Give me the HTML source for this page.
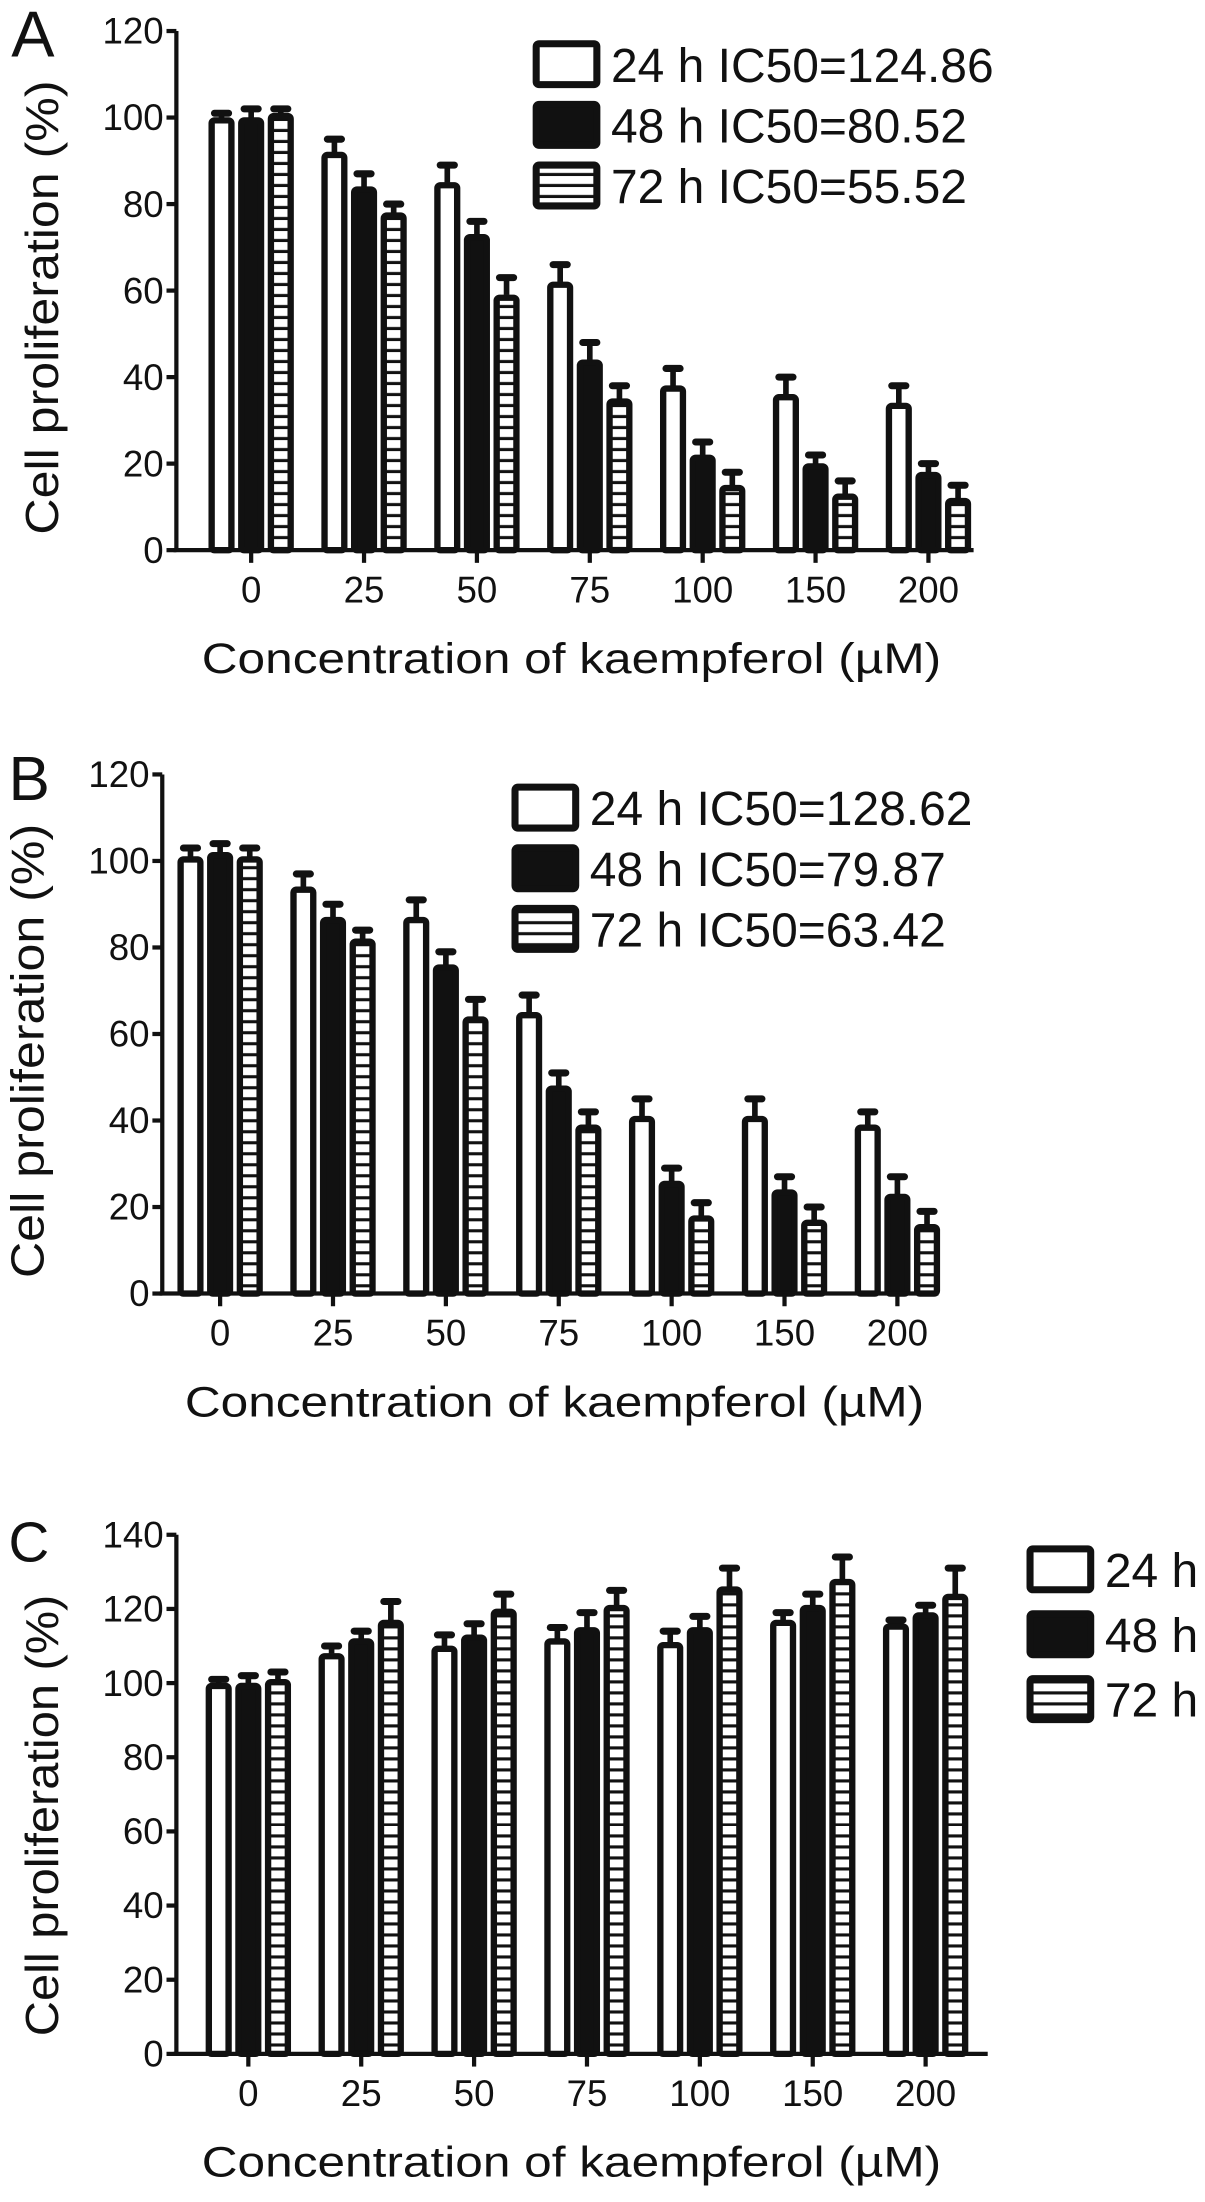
<!DOCTYPE html>
<html><head><meta charset="utf-8"><style>
html,body{margin:0;padding:0;background:#fff;}
svg{display:block;}
text{font-family:"Liberation Sans Narrow","Liberation Sans",sans-serif;fill:#111;}
</style></head><body>
<svg id="fig" width="1205" height="2202" viewBox="0 0 854 1561" preserveAspectRatio="none" xmlns="http://www.w3.org/2000/svg">
<defs>
<pattern id="stripes" patternUnits="userSpaceOnUse" width="8" height="7.8">
<rect width="8" height="7.8" fill="#fff"/><rect y="5.6" width="8" height="2.2" fill="#111"/>
</pattern>
</defs>
</svg>
<script>
const categories = ["0","25","50","75","100","150","200"];
const seriesNames = ["24 h","48 h","72 h"];
const aTicks = ["0","20","40","60","80","100","120"];
const a24 = [100,92,85,62,38,36,34];
const a48 = [100,84,73,44,22,20,18];
const a72 = [101,78,59,35,15,13,12];
const a24e = [1,3,4,4,4,4,4];
const a48e = [2,3,3,4,3,2,2];
const a72e = [1,2,4,3,3,3,3];
const aLegend = ["24 h IC50=124.86","48 h IC50=80.52","72 h IC50=55.52"];
const bTicks = ["0","20","40","60","80","100","120"];
const b24 = [101,94,87,65,41,41,39];
const b48 = [102,87,76,48,26,24,23];
const b72 = [101,82,64,39,18,17,16];
const b24e = [2,3,4,4,4,4,3];
const b48e = [2,3,3,3,3,3,4];
const b72e = [2,2,4,3,3,3,3];
const bLegend = ["24 h IC50=128.62","48 h IC50=79.87","72 h IC50=63.42"];
const cTicks = ["0","20","40","60","80","100","120","140"];
const c24 = [100,108,110,112,111,117,116];
const c48 = [100,112,113,115,115,121,119];
const c72 = [101,117,120,121,126,128,124];
const c24e = [1,2,3,3,3,2,1];
const c48e = [2,2,3,4,3,3,2];
const c72e = [2,5,4,4,5,6,7];
const cLegend = ["24 h","48 h","72 h"];

const NS="http://www.w3.org/2000/svg";
const svg=document.getElementById('fig');
function mk(tag,attrs,parent,txt){const e=document.createElementNS(NS,tag);for(const k in attrs)e.setAttribute(k,attrs[k]);if(txt!==undefined)e.textContent=txt;(parent||svg).appendChild(e);return e;}

function panel(o){
  const g=mk('g',{});
  
  
  const ymax=+o.ticks[o.ticks.length-1];
  const y=v=>o.y0-(v/ymax)*(o.y0-o.yTop);
  const x=i=>o.xc0+i*o.step;
  const lbl=mk('text',{x:o.lx,y:o.ly,'font-size':o.lfs,'font-family':'Liberation Sans'},g,o.id);
  
  
  const series=[o.s24,o.s48,o.s72], errs=[o.e24,o.e48,o.e72];
  const fills=['#fff','#111','url(#stripes)'];
  const bw=18, bs=21;
  series.forEach((s,si)=>{
    s.forEach((v,i)=>{
      const cx=x(i)+(si-1)*bs;
      const top=y(v);
      const ety=y(v+errs[si][i]);
      const eb=mk('line',{x1:cx,x2:cx,y1:top,y2:ety,stroke:'#111','stroke-width':4},g);
      
      
      const cap=mk('line',{x1:cx-5,x2:cx+5,y1:ety,y2:ety,stroke:'#111','stroke-width':5,'stroke-linecap':'round'},g);
      
      
      const r=mk('rect',{x:cx-bw/2+2,y:top+2,width:bw-4,height:Math.max(0,o.y0-top-2),fill:fills[si],stroke:'#111','stroke-width':4.5,rx:2},g);
      
      
    });
  });
  const ya=mk('line',{x1:o.ax,x2:o.ax,y1:o.yTop,y2:o.y0,stroke:'#111','stroke-width':3},g);
  
  
  const xa=mk('line',{x1:o.ax-2,x2:o.xEnd,y1:o.y0,y2:o.y0,stroke:'#111','stroke-width':3},g);
  
  
  o.ticks.forEach(t=>{
    const yy=y(+t);
    mk('line',{x1:o.ax-7,x2:o.ax,y1:yy,y2:yy,stroke:'#111','stroke-width':3},g);
    const tt=mk('text',{x:o.ax-9,y:yy+9,'font-size':26,'text-anchor':'end'},g,t);
    
    
  });
  categories.forEach((c,i)=>{
    mk('line',{x1:x(i),x2:x(i),y1:o.y0,y2:o.y0+9,stroke:'#111','stroke-width':3},g);
    const tt=mk('text',{x:x(i),y:o.y0+37,'font-size':26,'text-anchor':'middle'},g,c);
    
    
  });
  const xt=mk('text',{x:o.xtx,y:o.y0+87,'font-size':30,'text-anchor':'middle',textLength:524,lengthAdjust:'spacingAndGlyphs'},g,'Concentration of  kaempferol (µM)');
  
  
  const yt=mk('text',{x:0,y:0,'font-size':33,'text-anchor':'middle','font-family':'Liberation Sans',transform:`translate(${o.ytx},${o.yty}) rotate(-90)`,textLength:o.ytl,lengthAdjust:'spacingAndGlyphs'},g,'Cell proliferation  (%)');
  
  
  o.legend.forEach((l,i)=>{
    const ly=o.legY+i*o.legStep;
    const b=mk('rect',{x:o.legX+2,y:ly-15,width:43,height:29,fill:fills[i],stroke:'#111','stroke-width':5,rx:2},g);
    
    
    const t=mk('text',{x:o.legX+55,y:ly+12,'font-size':34},g,l);
    
    
  });
}
panel({id:'A',ticks:aTicks,s24:a24,s48:a48,s72:a72,e24:a24e,e48:a48e,e72:a72e,legend:aLegend,
  ax:125,yTop:22,y0:390,xc0:178,step:80,xEnd:690,xtx:405,ytx:41,yty:218,ytl:322,lx:8,ly:40,lfs:46,legX:378,legY:46,legStep:43});
panel({id:'B',ticks:bTicks,s24:b24,s48:b48,s72:b72,e24:b24e,e48:b48e,e72:b72e,legend:bLegend,
  ax:115,yTop:549,y0:917,xc0:156,step:80,xEnd:665,xtx:393,ytx:31,yty:745,ytl:322,lx:6,ly:567,lfs:44,legX:363,legY:573,legStep:43});
panel({id:'C',ticks:cTicks,s24:c24,s48:c48,s72:c72,e24:c24e,e48:c48e,e72:c72e,legend:cLegend,
  ax:125,yTop:1088,y0:1456,xc0:176,step:80,xEnd:700,xtx:405,ytx:41,yty:1287,ytl:313,lx:6,ly:1107,lfs:40,legX:728,legY:1113,legStep:46});
</script>
</body></html>
